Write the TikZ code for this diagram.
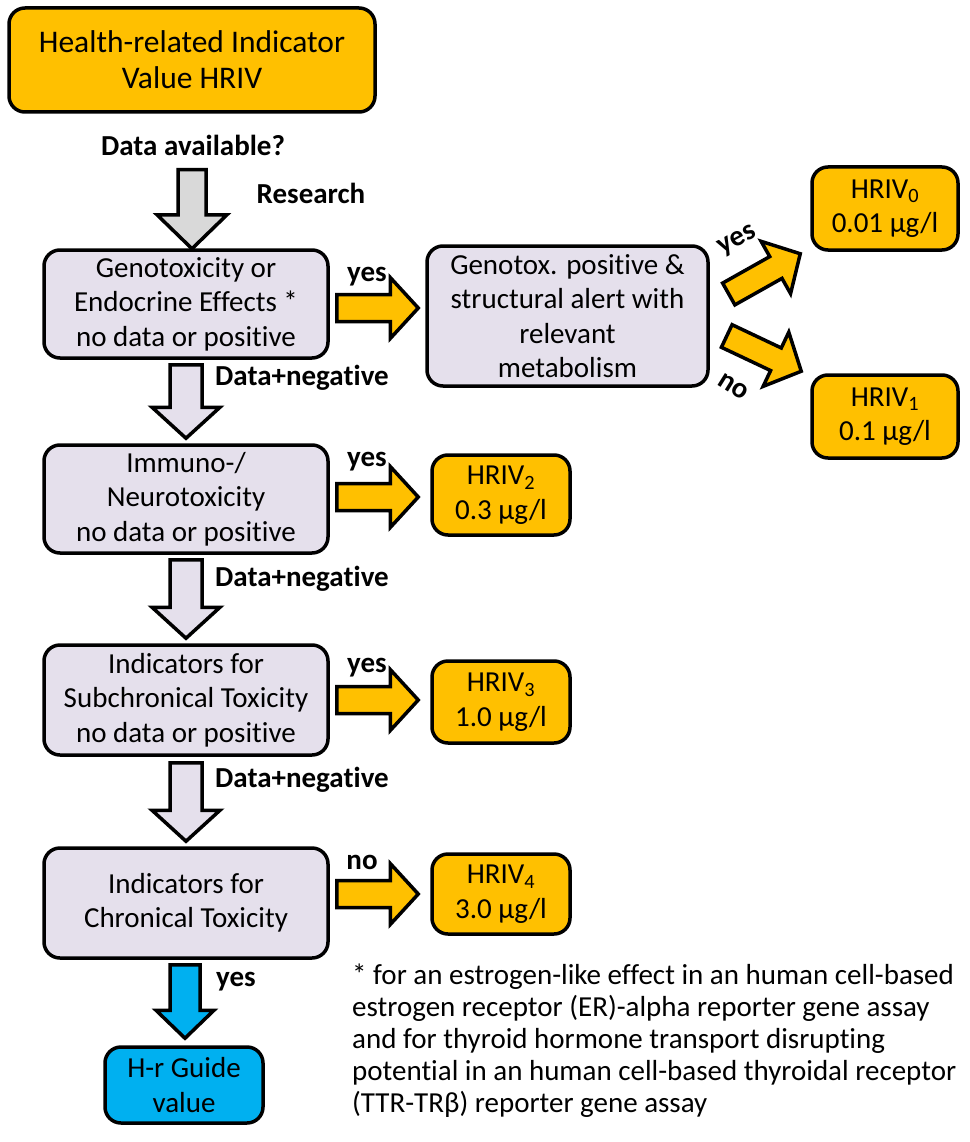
\documentclass[tikz,border=0pt]{standalone}
\usepackage{fontspec}
\setmainfont{Carlito}[Ligatures=NoCommon]
\usetikzlibrary{calc}
\definecolor{orng}{HTML}{FFC000}
\definecolor{lav}{HTML}{E5E0EC}
\definecolor{grayfill}{HTML}{D9D9D9}
\definecolor{bluef}{HTML}{00B0F0}
\tikzset{
  box/.style={draw=black, line width=3.5pt, rounded corners=16pt, align=center, inner sep=0pt,
    font=\fontsize{29}{34.5}\selectfont},
  lavbox/.style={box, fill=lav, minimum width=284pt, minimum height=108pt},
  orbox/.style={box, fill=orng, minimum width=138pt, minimum height=80pt},
  lbl/.style={font=\fontsize{29}{34}\selectfont\bfseries, inner sep=0pt},
  blk/.style={draw=black, line width=3.5pt, line join=miter},
}
\newcommand\blockarr[6]{%
  \coordinate (ba-h) at ($(#3)!#6!(#2)$);
  \draw[#1] ($(#2)!#4!90:(#3)$) -- ($(ba-h)!#4!-90:(#2)$) -- ($(ba-h)!#5!-90:(#2)$) -- (#3)
    -- ($(ba-h)!#5!90:(#2)$) -- ($(ba-h)!#4!90:(#2)$) -- ($(#2)!#4!-90:(#3)$) -- cycle;
}
\begin{document}
\begin{tikzpicture}[x=1pt,y=-1pt]
\useasboundingbox[fill=white] (0,0) rectangle (969,1142);

% main nodes
\node[box, fill=orng, minimum width=366pt, minimum height=104pt, font=\fontsize{31.5}{36}\selectfont]
  (top) at (192,60) {Health-related Indicator\\Value HRIV};
\node[lavbox] (b1) at (186,304) {Genotoxicity or\\Endocrine Effects *\\no data or positive};
\node[box, fill=lav, minimum width=281pt, minimum height=140pt] (gx) at (567.5,316)
  {Genotox. positive \&\\structural alert with\\relevant\\metabolism};
\node[orbox, minimum width=146pt, minimum height=83pt] (h0) at (885,208.5) {HRIV\textsubscript{0}\\0.01 µg/l};
\node[orbox, minimum width=146pt, minimum height=83pt] (h1) at (885,416.5) {HRIV\textsubscript{1}\\0.1 µg/l};
\node[lavbox] (b2) at (186,499) {Immuno-/\\Neurotoxicity\\no data or positive};
\node[orbox] (h2) at (501,495) {HRIV\textsubscript{2}\\0.3 µg/l};
\node[lavbox, minimum height=110pt] (b3) at (186,700) {Indicators for\\Subchronical Toxicity\\no data or positive};
\node[orbox, minimum height=82pt] (h3) at (501,702) {HRIV\textsubscript{3}\\1.0 µg/l};
\node[lavbox, minimum height=110pt] (b4) at (186,903) {Indicators for\\Chronical Toxicity};
\node[orbox] (h4) at (501,894) {HRIV\textsubscript{4}\\3.0 µg/l};
\node[box, fill=bluef, minimum width=158pt, minimum height=76pt] (gv) at (184,1085) {H-r Guide\\value};

% labels
\node[lbl] (lq) at (193,145) {Data available?};
\node[lbl] (lr) at (311,193) {Research};
\node[lbl] (ly1) at (367,277) {yes};
\node[lbl] (ly2) at (367,462) {yes};
\node[lbl] (ly3) at (367,668) {yes};
\node[lbl] (ln4) at (362,862) {no};
\node[lbl, anchor=west] (ld1) at (215,378) {Data+negative};
\node[lbl, anchor=west] (ld2) at (215,579) {Data+negative};
\node[lbl, anchor=west] (ld3) at (215,780) {Data+negative};
\node[lbl] (lyb) at (236,982) {yes};
\node[lbl, rotate=28] (lyd) at (738,241) {yes};
\node[lbl, rotate=-32] (lnd) at (733,387) {no};

% footnote
\node[anchor=north west, align=left, inner sep=0pt, font=\fontsize{29}{32}\selectfont] (fn) at (352,964)
  {* for an estrogen-like effect in an human cell-based\\
   estrogen receptor (ER)-alpha reporter gene assay\\
   and for thyroid hormone transport disrupting\\
   potential in an human cell-based thyroidal receptor\\
   (TTR-TRβ) reporter gene assay};

% arrow end points
\coordinate (g0s) at ($(top.south)+(0,56)$);
\coordinate (g0t) at ($(top.south)+(0,135)$);
\coordinate (d1s) at ($(b1.south)+(0,5)$);
\coordinate (d1t) at ($(b2.north)+(0,-5)$);
\coordinate (d2s) at ($(b2.south)+(0,5)$);
\coordinate (d2t) at ($(b3.north)+(0,-5)$);
\coordinate (d3s) at ($(b3.south)+(0,6)$);
\coordinate (d3t) at ($(b4.north)+(0,-5)$);
\coordinate (bs) at ($(b4.south)+(-1,5)$);
\coordinate (bt) at ($(bs |- gv.north)+(0,-7)$);
\coordinate (r1s) at ($(b1.east)+(7,4)$);
\coordinate (r1t) at ($(r1s -| gx.west)+(-7,0)$);
\coordinate (r2s) at ($(b2.east)+(7,-2)$);
\coordinate (r2t) at ($(r2s -| h2.west)+(-12,0)$);
\coordinate (r3s) at ($(b3.east)+(7,0)$);
\coordinate (r3t) at ($(r3s -| h3.west)+(-12,0)$);
\coordinate (r4s) at ($(b4.east)+(7,-9)$);
\coordinate (r4t) at ($(r4s -| h4.west)+(-12,0)$);
\coordinate (ys) at ($(gx.east)+(19,-22)$);
\coordinate (yt) at ($(h0.south west)+(-10,2)$);
\coordinate (ns) at ($(gx.east)+(17,20)$);
\coordinate (nt) at ($(h1.north west)+(-9,-2)$);

% block arrows
\blockarr{blk, fill=grayfill}{g0s}{g0t}{14pt}{35pt}{34pt}
\blockarr{blk, fill=lav}{d1s}{d1t}{16pt}{34pt}{31pt}
\blockarr{blk, fill=lav}{d2s}{d2t}{16pt}{34pt}{31pt}
\blockarr{blk, fill=lav}{d3s}{d3t}{16pt}{34pt}{31pt}
\blockarr{blk, fill=bluef}{bs}{bt}{15pt}{29pt}{28pt}
\blockarr{blk, fill=orng}{r1s}{r1t}{13.5pt}{30.5pt}{28pt}
\blockarr{blk, fill=orng}{r2s}{r2t}{13.5pt}{30.5pt}{28pt}
\blockarr{blk, fill=orng}{r3s}{r3t}{13.5pt}{30.5pt}{28pt}
\blockarr{blk, fill=orng}{r4s}{r4t}{13.5pt}{30.5pt}{28pt}
\blockarr{blk, fill=orng}{ys}{yt}{12.5pt}{30pt}{28pt}
\blockarr{blk, fill=orng}{ns}{nt}{12.5pt}{30pt}{28pt}
\end{tikzpicture}
\end{document}
